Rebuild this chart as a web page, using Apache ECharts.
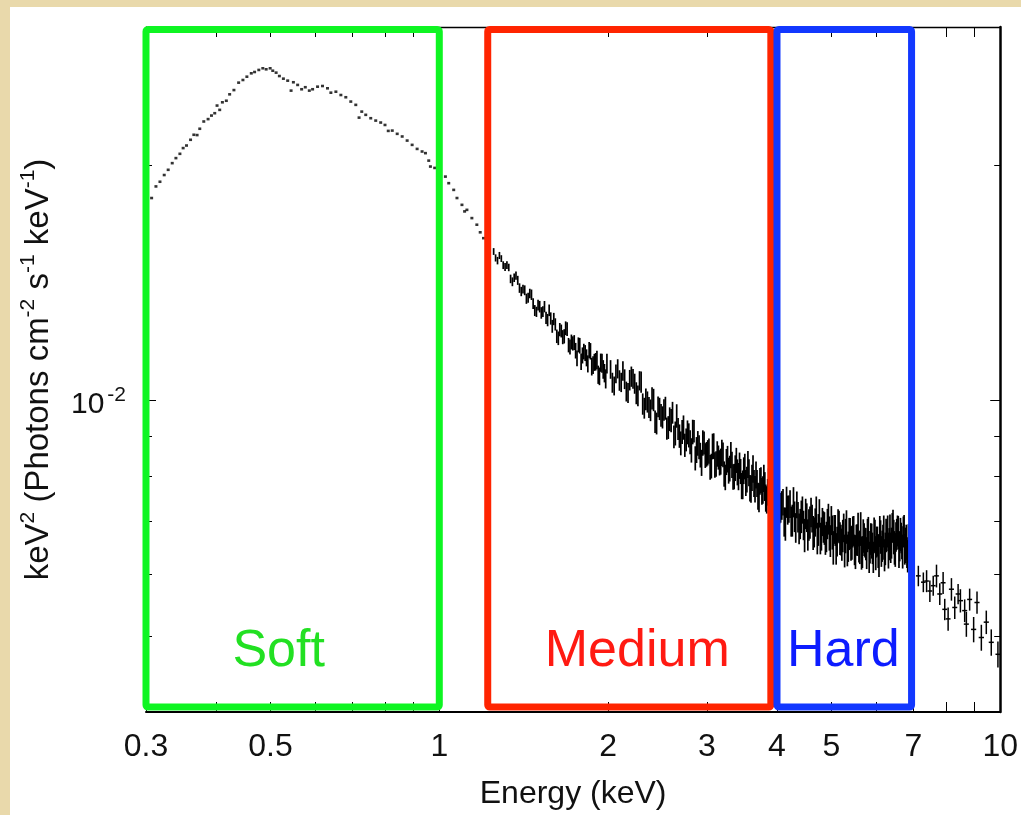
<!DOCTYPE html>
<html>
<head>
<meta charset="utf-8">
<script src="https://cdn.jsdelivr.net/npm/echarts@6/dist/echarts.min.js"></script>
<style>
html,body{margin:0;padding:0;background:#e9d9ab;}
#c{width:1021px;height:815px;}
</style>
</head>
<body>
<div id="c"></div>
<script>
// ---------------- data ----------------
const softEnergy = [
0.307,0.3125,0.3177,0.3233,0.3286,0.3341,0.3392,0.3448,0.3494,0.3543,
0.3602,0.3651,0.3700,0.3741,0.3803,0.3871,0.3925,0.3978,0.4016,0.4060,
0.4105,0.4172,0.4229,0.4304,0.4388,0.4466,0.4539,0.4622,0.4685,0.4767,
0.4846,0.4913,0.4994,0.5048,0.5118,0.5187,0.5273,0.5367,0.5442,0.5494,
0.5591,0.5683,0.5769,0.5865,0.5945,0.6067,0.6192,0.6320,0.6408,0.6541,
0.6676,0.6813,0.6954,0.7098,0.7194,0.7274,0.7394,0.7547,0.7703,0.7862,
0.8002,0.8110,0.8244,0.8413,0.8587,0.8764,0.8945,0.9130,0.9318,0.9448,
0.9576,0.9642,0.9813,1.0017,1.0254,1.0395,1.0610,1.0753,1.0975,1.1095,
1.1201,1.1431,1.1667,1.1829,1.1991,1.2189];
const softFlux = [
0.01814,0.01877,0.01903,0.01941,0.01971,0.02010,0.02040,0.02066,0.02101,0.02117,
0.02153,0.02185,0.02183,0.02224,0.02272,0.02288,0.02312,0.02328,0.02381,0.02351,
0.02404,0.02415,0.02461,0.02492,0.02547,0.02567,0.02592,0.02618,0.02628,0.02644,
0.02657,0.02649,0.02657,0.02638,0.02623,0.02597,0.02577,0.02562,0.02488,0.02550,
0.02530,0.02498,0.02513,0.02488,0.02498,0.02517,0.02522,0.02505,0.02473,0.02480,
0.02456,0.02440,0.02409,0.02386,0.02298,0.02339,0.02317,0.02294,0.02278,0.02265,
0.02249,0.02210,0.02212,0.02191,0.02174,0.02148,0.02121,0.02096,0.02080,0.02070,
0.02025,0.01990,0.01982,0.01959,0.01932,0.01895,0.01858,0.01814,0.01778,0.01744,
0.01752,0.01710,0.01677,0.01640,0.01612,0.01586];

// first set of binned points, 1.25 - 6.96 keV
const midEnergy = [
1.25,1.27,1.29,1.31,1.33,1.35,1.37,1.39,1.41,1.43,
1.45,1.47,1.49,1.51,1.53,1.55,1.57,1.59,1.61,1.63,
1.65,1.67,1.69,1.71,1.73,1.75,1.77,1.79,1.81,1.83,
1.85,1.87,1.89,1.91,1.93,1.95,1.97,1.99,
2.02,2.05,2.08,2.11,2.14,2.17,2.20,2.23,2.26,2.29,
2.32,2.35,2.38,2.41,2.44,2.47,2.50,2.53,2.56,2.59,
2.62,2.65,2.68,2.71,2.74,2.77,2.80,2.83,2.86,2.89,
2.92,2.95,2.98,3.01,3.04,3.07,3.10,3.13,3.16,3.19,
3.22,3.25,3.28,3.31,3.34,3.37,3.40,3.43,3.46,3.49,
3.52,3.55,3.58,3.61,3.64,3.67,3.70,3.73,3.76,3.79,
3.82,3.85,3.88,
3.92,3.96,4.00,4.04,4.08,4.12,4.16,4.20,4.24,4.28,
4.32,4.36,4.40,4.44,4.48,4.52,4.56,4.60,4.64,4.68,
4.72,4.76,4.80,4.84,4.88,4.92,4.96,5.00,5.04,5.08,
5.12,5.16,5.20,5.24,5.28,5.32,5.36,5.40,5.44,5.48,
5.52,5.56,5.60,5.64,5.68,5.72,5.76,5.80,5.84,5.88,
5.92,5.96,6.00,6.04,6.08,6.12,6.16,6.20,6.24,6.28,
6.32,6.36,6.40,6.44,6.48,6.52,6.56,6.60,6.64,6.68,
6.72,6.76,6.80,6.84,6.88,6.92,6.96];
const midFlux = [
0.01550,0.01509,0.01518,0.01481,0.01479,0.01418,0.01444,0.01392,0.01388,0.01349,
0.01370,0.01330,0.01298,0.01318,0.01299,0.01275,0.01304,0.01244,0.01251,0.01201,
0.01227,0.01208,0.01234,0.01171,0.01183,0.01158,0.01178,0.01121,0.01155,0.01134,
0.01160,0.01105,0.01119,0.01127,0.01074,0.01116,0.01084,0.01115,
0.01096,0.01044,0.01098,0.01055,0.01065,0.01023,0.01073,0.01051,0.01014,0.01056,
0.00978,0.00996,0.00972,0.01002,0.00935,0.00976,0.00952,0.00978,0.00924,0.00943,
0.00899,0.00956,0.00901,0.00912,0.00877,0.00911,0.00885,0.00912,0.00844,0.00882,
0.00852,0.00883,0.00851,0.00858,0.00822,0.00874,0.00828,0.00855,0.00833,0.00858,
0.00806,0.00835,0.00814,0.00852,0.00799,0.00820,0.00810,0.00826,0.00778,0.00814,
0.00785,0.00829,0.00773,0.00797,0.00784,0.00804,0.00755,0.00789,0.00766,0.00796,
0.00751,0.00764,0.00791,
0.00770,0.00727,0.00771,0.00728,0.00735,0.00700,0.00742,0.00727,0.00701,0.00742,
0.00688,0.00710,0.00696,0.00725,0.00673,0.00709,0.00694,0.00720,0.00678,0.00699,
0.00667,0.00718,0.00676,0.00690,0.00664,0.00696,0.00677,0.00703,0.00649,0.00683,
0.00661,0.00690,0.00664,0.00672,0.00643,0.00690,0.00651,0.00677,0.00659,0.00682,
0.00641,0.00664,0.00650,0.00686,0.00641,0.00665,0.00656,0.00673,0.00631,0.00666,
0.00648,0.00675,0.00639,0.00661,0.00626,0.00670,0.00652,0.00681,0.00647,0.00671,
0.00644,0.00684,0.00658,0.00692,0.00649,0.00670,0.00682,0.00641,0.00675,0.00659,
0.00680,0.00646,0.00660,0.00633,0.00652,0.00621,0.00664];
const midFluxErr = [
0.000155,0.000166,0.000152,0.000178,0.000163,0.000184,0.000173,0.000195,0.000180,0.000202,
0.000192,0.000213,0.000195,0.000224,0.000208,0.000230,0.000222,0.000236,0.000225,0.000240,
0.000233,0.000254,0.000247,0.000258,0.000248,0.000266,0.000259,0.000269,0.000266,0.000284,
0.000278,0.000287,0.000280,0.000304,0.000279,0.000312,0.000293,0.000323,
0.00030,0.00029,0.00031,0.00030,0.00031,0.00030,0.00032,0.00031,0.00031,0.00033,
0.00030,0.00031,0.00031,0.00033,0.00030,0.00032,0.00031,0.00033,0.00031,0.00032,
0.00030,0.00033,0.00031,0.00032,0.00030,0.00032,0.00031,0.00033,0.00030,0.00032,
0.00031,0.00033,0.00031,0.00032,0.00030,0.00033,0.00031,0.00032,0.00031,0.00033,
0.00030,0.00032,0.00031,0.00033,0.00030,0.00031,0.00031,0.00032,0.00030,0.00032,
0.00030,0.00033,0.00030,0.00031,0.00031,0.00032,0.00030,0.00031,0.00030,0.00032,
0.00030,0.00030,0.00032,
0.00030,0.00032,0.00029,0.00033,0.00031,0.00030,0.00034,0.00029,0.00031,0.00033,
0.00030,0.00032,0.00031,0.00029,0.00033,0.00030,0.00032,0.00031,0.00034,0.00029,
0.00031,0.00030,0.00033,0.00032,0.00029,0.00031,0.00034,0.00030,0.00032,0.00031,
0.00029,0.00033,0.00030,0.00032,0.00031,0.00034,0.00029,0.00031,0.00033,0.00030,
0.00032,0.00031,0.00029,0.00034,0.00030,0.00032,0.00031,0.00033,0.00029,0.00031,
0.00030,0.00034,0.00032,0.00029,0.00031,0.00033,0.00030,0.00032,0.00031,0.00029,
0.00034,0.00031,0.00030,0.00033,0.00032,0.00029,0.00031,0.00030,0.00033,0.00032,
0.00031,0.00029,0.00034,0.00030,0.00032,0.00031,0.00033];

// second, interleaved set of binned points, 1.26 - 6.94 keV
const mid2Energy = [
1.26,1.28,1.30,1.32,1.34,1.36,1.38,1.40,1.42,1.44,
1.46,1.48,1.50,1.52,1.54,1.56,1.58,1.60,1.62,1.64,
1.66,1.68,1.70,1.72,1.74,1.76,1.78,1.80,1.82,1.84,
1.86,1.88,1.90,1.92,1.94,1.96,1.98,
2.035,2.065,2.095,2.125,2.155,2.185,2.215,2.245,2.275,2.305,
2.335,2.365,2.395,2.425,2.455,2.485,2.515,2.545,2.575,2.605,
2.635,2.665,2.695,2.725,2.755,2.785,2.815,2.845,2.875,2.905,
2.935,2.965,2.995,3.025,3.055,3.085,3.115,3.145,3.175,3.205,
3.235,3.265,3.295,3.325,3.355,3.385,3.415,3.445,3.475,3.505,
3.535,3.565,3.595,3.625,3.655,3.685,3.715,3.745,3.775,3.805,
3.835,3.865,
3.94,3.98,4.02,4.06,4.10,4.14,4.18,4.22,4.26,4.30,
4.34,4.38,4.42,4.46,4.50,4.54,4.58,4.62,4.66,4.70,
4.74,4.78,4.82,4.86,4.90,4.94,4.98,5.02,5.06,5.10,
5.14,5.18,5.22,5.26,5.30,5.34,5.38,5.42,5.46,5.50,
5.54,5.58,5.62,5.66,5.70,5.74,5.78,5.82,5.86,5.90,
5.94,5.98,6.02,6.06,6.10,6.14,6.18,6.22,6.26,6.30,
6.34,6.38,6.42,6.46,6.50,6.54,6.58,6.62,6.66,6.70,
6.74,6.78,6.82,6.86,6.90,6.94];
const mid2Flux = [
0.01521,0.01532,0.01489,0.01489,0.01430,0.01435,0.01424,0.01378,0.01383,0.01353,
0.01365,0.01303,0.01324,0.01294,0.01318,0.01267,0.01273,0.01271,0.01208,0.01232,
0.01205,0.01237,0.01177,0.01188,0.01186,0.01132,0.01175,0.01142,0.01150,0.01114,
0.01156,0.01110,0.01121,0.01079,0.01118,0.01096,0.01066,
0.01054,0.01082,0.01061,0.01091,0.01027,0.01062,0.01066,0.01022,0.01060,0.00990,
0.01004,0.00980,0.01007,0.00940,0.00982,0.00958,0.00973,0.00921,0.00947,0.00965,
0.00908,0.00920,0.00882,0.00924,0.00891,0.00903,0.00864,0.00914,0.00865,0.00872,
0.00833,0.00883,0.00854,0.00862,0.00825,0.00875,0.00830,0.00846,0.00836,0.00853,
0.00798,0.00842,0.00819,0.00828,0.00800,0.00839,0.00800,0.00812,0.00781,0.00824,
0.00793,0.00809,0.00771,0.00818,0.00771,0.00784,0.00752,0.00792,0.00769,0.00777,
0.00747,0.00787,
0.00760,0.00727,0.00765,0.00730,0.00742,0.00696,0.00725,0.00738,0.00703,0.00711,
0.00736,0.00686,0.00711,0.00693,0.00717,0.00674,0.00699,0.00707,0.00679,0.00720,
0.00684,0.00667,0.00700,0.00687,0.00670,0.00706,0.00662,0.00679,0.00685,0.00647,
0.00693,0.00667,0.00655,0.00688,0.00672,0.00644,0.00676,0.00657,0.00680,0.00645,
0.00664,0.00685,0.00650,0.00639,0.00672,0.00659,0.00639,0.00678,0.00650,0.00662,
0.00631,0.00671,0.00660,0.00643,0.00681,0.00642,0.00660,0.00635,0.00673,0.00681,
0.00656,0.00649,0.00688,0.00670,0.00645,0.00675,0.00679,0.00652,0.00668,0.00642,
0.00683,0.00654,0.00640,0.00662,0.00621,0.00645];
const mid2FluxErr = [
0.00016,0.00016,0.00017,0.00017,0.00018,0.00018,0.00019,0.00019,0.00020,0.00020,
0.00021,0.00021,0.00021,0.00022,0.00022,0.00023,0.00023,0.00023,0.00024,0.00024,
0.00025,0.00025,0.00025,0.00026,0.00026,0.00026,0.00027,0.00027,0.00027,0.00028,
0.00028,0.00029,0.00029,0.00029,0.00030,0.00030,0.00030,
0.00031,0.00030,0.00032,0.00031,0.00030,0.00032,0.00031,0.00033,0.00030,0.00031,
0.00032,0.00030,0.00033,0.00031,0.00030,0.00032,0.00031,0.00030,0.00033,0.00031,
0.00032,0.00030,0.00031,0.00033,0.00030,0.00032,0.00031,0.00030,0.00033,0.00031,
0.00032,0.00030,0.00031,0.00032,0.00030,0.00033,0.00031,0.00030,0.00032,0.00031,
0.00030,0.00033,0.00031,0.00032,0.00030,0.00031,0.00032,0.00030,0.00033,0.00031,
0.00030,0.00032,0.00031,0.00033,0.00030,0.00031,0.00032,0.00030,0.00031,0.00033,
0.00030,0.00032,
0.00031,0.00033,0.00030,0.00032,0.00029,0.00034,0.00031,0.00030,0.00033,0.00032,
0.00029,0.00031,0.00034,0.00030,0.00032,0.00031,0.00033,0.00029,0.00030,0.00034,
0.00032,0.00031,0.00029,0.00033,0.00030,0.00032,0.00031,0.00034,0.00029,0.00030,
0.00033,0.00032,0.00031,0.00029,0.00034,0.00030,0.00032,0.00033,0.00031,0.00029,
0.00030,0.00034,0.00032,0.00031,0.00033,0.00029,0.00030,0.00032,0.00031,0.00034,
0.00029,0.00033,0.00030,0.00032,0.00031,0.00029,0.00034,0.00030,0.00033,0.00032,
0.00031,0.00029,0.00030,0.00034,0.00032,0.00031,0.00033,0.00029,0.00030,0.00032,
0.00031,0.00034,0.00029,0.00033,0.00030,0.00032];

const tailEnergy = [7.146,7.294,7.392,7.492,7.596,7.699,7.803,7.911,7.964,8.075,
8.186,8.298,8.413,8.493,8.643,8.703,8.821,8.967,9.092,9.255,9.445,9.640,9.907];
const tailEnergyErr = [0.07,0.07,0.07,0.075,0.075,0.075,0.08,0.08,0.08,0.08,
0.085,0.085,0.085,0.09,0.09,0.09,0.09,0.095,0.095,0.1,0.1,0.1,0.1];
const tailFlux = [0.00597,0.00586,0.00588,0.00571,0.00580,0.00597,0.00566,0.00585,0.00541,0.00526,
0.00574,0.00544,0.00566,0.00555,0.00539,0.00518,0.00557,0.00510,0.00552,0.00498,0.00521,0.00491,0.00474];
const tailFluxErr = [0.00018,0.00017,0.00019,0.00018,0.00017,0.00020,0.00018,0.00019,0.00017,0.00018,
0.00019,0.00018,0.00017,0.00019,0.00018,0.00019,0.00018,0.00019,0.00018,0.00019,0.00018,0.00019,0.00018];

const bandNames = ['Soft', 'Medium', 'Hard'];
const bandFrom = [0.3, 1.22, 4.0];
const bandTo = [1.0, 3.9, 6.95];

const xTickValues = [0.4,0.5,0.6,0.7,0.8,0.9,1,2,3,4,5,6,7,8,9];
const xLabelValues = [0.3,0.5,1,2,3,4,5,7,10];
const yTickValues = [0.005,0.006,0.007,0.008,0.009,0.02];
const yMajorTickValues = [0.01];
const yLabelValues = [0.01];

// ---------------- style / layout ----------------
const FONT = '"Liberation Sans", Arial, Helvetica, sans-serif';
const X_MIN = 0.3, X_MAX = 10, Y_MIN = 0.004, Y_MAX = 0.03;
const BOX_TOP = 0.02978, BOX_BOTTOM = 0.004059;
const bandStroke = ['#0ef522', '#ff2400', '#1238ff'];
const bandText = ['#22e022', '#ff1a12', '#0d1cff'];
const bandLabelDx = [-14, 8, -1];

const chart = echarts.init(document.getElementById('c'), null, {renderer: 'canvas'});

function fmtX(v) { return String(+(+v).toPrecision(3)); }

function xAxisCfg(pos, showLabel, lineW) {
  return {
    type: 'log', logBase: 10, min: X_MIN, max: X_MAX, position: pos,
    axisLine: {show: true, onZero: false, lineStyle: {color: '#000', width: lineW}},
    axisTick: {show: true, inside: true, length: 10, customValues: xTickValues,
      lineStyle: {color: '#000', width: 1}},
    axisLabel: {show: showLabel, customValues: xLabelValues, formatter: fmtX,
      margin: 19, fontSize: 32, color: '#111', fontFamily: FONT,
      showMinLabel: true, showMaxLabel: true, hideOverlap: false},
    splitLine: {show: false}, minorTick: {show: false}, minorSplitLine: {show: false}
  };
}
function yAxisCfg(pos, lineShow, lineW, ticks, tickLen, showLabel) {
  return {
    type: 'log', logBase: 10, min: Y_MIN, max: Y_MAX, position: pos,
    axisLine: {show: lineShow, onZero: false, lineStyle: {color: '#000', width: lineW}},
    axisTick: {show: true, inside: true, length: tickLen, customValues: ticks,
      lineStyle: {color: '#000', width: 1}},
    axisLabel: {show: showLabel, customValues: yLabelValues, margin: 20,
      padding: [8, 0, 0, 0],
      formatter: function (v) { return Math.abs(v - 0.01) < 1e-6 ? '{b|10}{s|-2}' : ''; },
      rich: {
        b: {fontSize: 30, fontFamily: FONT, color: '#111', lineHeight: 40},
        s: {fontSize: 21, fontFamily: FONT, color: '#111', lineHeight: 14, verticalAlign: 'top',
          padding: [0, 0, 0, 3]}
      }},
    splitLine: {show: false}, minorTick: {show: false}, minorSplitLine: {show: false}
  };
}

const xb = xAxisCfg('bottom', true, 2);
xb.name = 'Energy (keV)';
xb.nameLocation = 'middle';
xb.nameGap = 66;
xb.nameTextStyle = {fontSize: 32, color: '#111', fontFamily: FONT};

const yl = yAxisCfg('left', true, 1, yTickValues, 6, true);
yl.name = '{m|keV}{s|2}{m| (Photons cm}{s|-2}{m| s}{s|-1}{m| keV}{s|-1}{m|)}';
yl.nameLocation = 'middle';
yl.nameGap = 86;
yl.nameTextStyle = {
  rich: {
    m: {fontSize: 33, fontFamily: FONT, color: '#111', lineHeight: 42},
    s: {fontSize: 21, fontFamily: FONT, color: '#111', lineHeight: 14, verticalAlign: 'top'}
  }
};

function errBarItem(params, api) {
  const e = api.value(0), f = api.value(1), er = api.value(2);
  const a = api.coord([e, f - er]), b = api.coord([e, f + er]);
  return {type: 'line', shape: {x1: a[0], y1: a[1], x2: b[0], y2: b[1]},
    style: {stroke: '#000', lineWidth: 1.7}};
}

const option = {
  animation: false,
  backgroundColor: '#e9d9ab',
  graphic: [{
    type: 'rect', silent: true, z: -100,
    shape: {x: 10, y: 7, width: 1011, height: 808},
    style: {fill: '#ffffff'}
  }],
  grid: {left: 146, right: 17, top: 27, bottom: 102, containLabel: false},
  xAxis: [xb, xAxisCfg('top', false, 1.3)],
  yAxis: [
    yl,
    yAxisCfg('right', true, 2.5, yTickValues, 6, false),
    yAxisCfg('left', false, 1, yMajorTickValues, 10, false),
    yAxisCfg('right', false, 1, yMajorTickValues, 10, false)
  ],
  series: [
    {
      type: 'scatter', name: 'soft', xAxisIndex: 0, yAxisIndex: 0,
      symbol: 'rect', symbolSize: [3, 2.6],
      itemStyle: {color: '#000'},
      data: softEnergy.map((e, i) => [e, softFlux[i]]), z: 3
    },
    {
      type: 'custom', name: 'binned A', xAxisIndex: 0, yAxisIndex: 0,
      encode: {x: 0, y: 1}, clip: true,
      data: midEnergy.map((e, i) => [e, midFlux[i], midFluxErr[i]]),
      renderItem: errBarItem, z: 3
    },
    {
      type: 'custom', name: 'binned B', xAxisIndex: 0, yAxisIndex: 0,
      encode: {x: 0, y: 1}, clip: true,
      data: mid2Energy.map((e, i) => [e, mid2Flux[i], mid2FluxErr[i]]),
      renderItem: errBarItem, z: 3
    },
    {
      type: 'custom', name: 'tail', xAxisIndex: 0, yAxisIndex: 0,
      encode: {x: 0, y: 1}, clip: true,
      data: tailEnergy.map((e, i) => [e, tailFlux[i], tailFluxErr[i], tailEnergyErr[i]]),
      renderItem: function (params, api) {
        const e = api.value(0), f = api.value(1), er = api.value(2), ee = api.value(3);
        const a = api.coord([e, f - er]), b = api.coord([e, f + er]);
        const l = api.coord([e - ee, f]), r = api.coord([e + ee, f]);
        return {type: 'group', children: [
          {type: 'line', shape: {x1: a[0], y1: a[1], x2: b[0], y2: b[1]}, style: {stroke: '#000', lineWidth: 1.5}},
          {type: 'line', shape: {x1: l[0], y1: l[1], x2: r[0], y2: r[1]}, style: {stroke: '#000', lineWidth: 1.5}}
        ]};
      }, z: 3
    },
    {
      type: 'custom', name: 'bands', xAxisIndex: 0, yAxisIndex: 0,
      encode: {x: [0, 1], y: [2, 3]}, clip: false,
      data: bandNames.map((n, i) => [bandFrom[i], bandTo[i], BOX_TOP, BOX_BOTTOM]),
      renderItem: function (params, api) {
        const i = params.dataIndex;
        const p0 = api.coord([api.value(0), api.value(2)]);
        const p1 = api.coord([api.value(1), api.value(3)]);
        return {type: 'group', children: [
          {type: 'rect', shape: {x: p0[0], y: p0[1], width: p1[0] - p0[0], height: p1[1] - p0[1], r: 2},
            style: {fill: 'none', stroke: bandStroke[i], lineWidth: 7, lineJoin: 'round'}},
          {type: 'text', style: {text: bandNames[i], x: (p0[0] + p1[0]) / 2 + bandLabelDx[i], y: p1[1] - 55,
            fill: bandText[i], fontSize: 52, fontFamily: FONT, align: 'center', verticalAlign: 'middle'}}
        ]};
      }, z: 10
    }
  ]
};
chart.setOption(option);
</script>
</body>
</html>
